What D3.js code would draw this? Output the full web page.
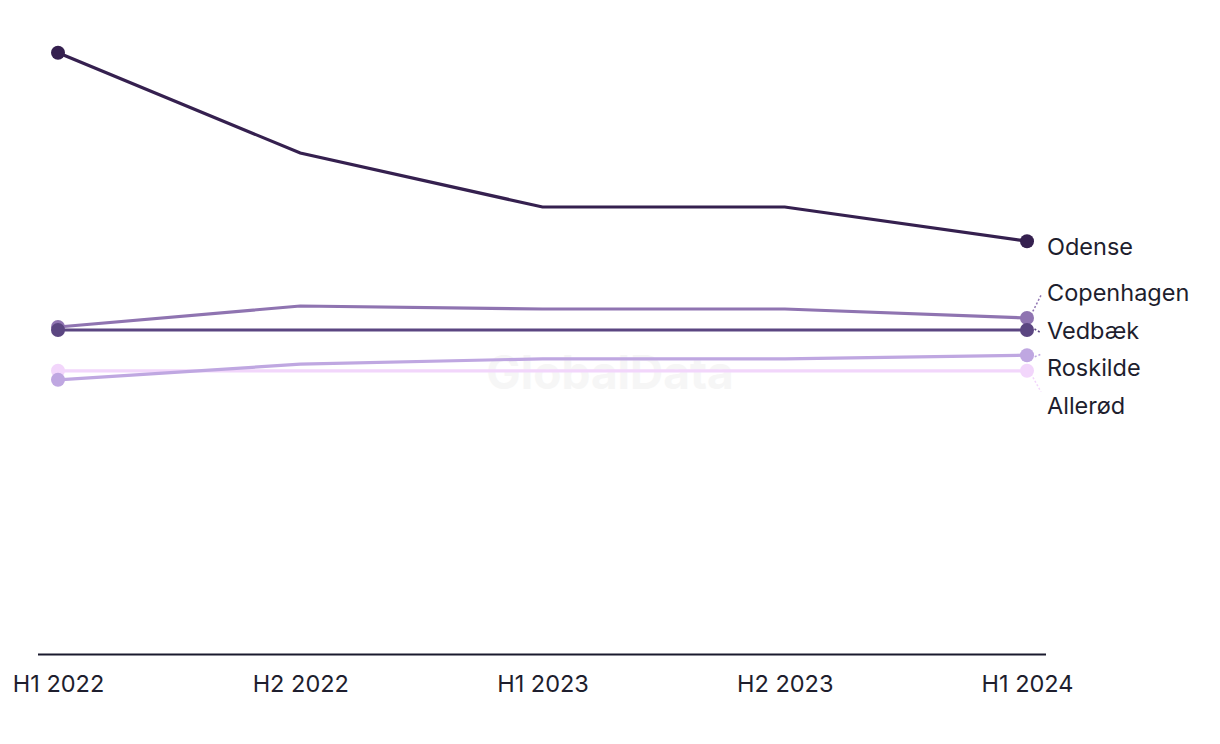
<!DOCTYPE html>
<html>
<head>
<meta charset="utf-8">
<script src="https://cdn.jsdelivr.net/npm/d3@7/dist/d3.min.js"></script>
<style>
  html, body { margin: 0; padding: 0; background: #ffffff; }
  svg { display: block; font-family: "Inter", "Roboto", "Noto Sans", sans-serif; }
</style>
</head>
<body>
<svg id="chart" width="1220" height="744"></svg>
<script>
const periods = ["H1 2022", "H2 2022", "H1 2023", "H2 2023", "H1 2024"];
const seriesNames = ["Odense", "Copenhagen", "Vedbæk", "Roskilde", "Allerød"];
const odense     = [100.2, 83.5, 74.5, 74.5, 68.8];
const copenhagen = [54.5, 58.0, 57.5, 57.5, 56.0];
const vedbaek    = [54.0, 54.0, 54.0, 54.0, 54.0];
const roskilde   = [45.7, 48.3, 49.2, 49.2, 49.8];
const allerod    = [47.2, 47.2, 47.2, 47.2, 47.2];
const colors = ["#35204f", "#8f74b1", "#5b4681", "#bfa7e1", "#f2d6fb"];

const seriesValues = [odense, copenhagen, vedbaek, roskilde, allerod];
const series = seriesNames.map((name, i) => ({
  name, color: colors[i],
  values: periods.map((p, j) => ({ period: p, value: seriesValues[i][j] }))
}));

const svg = d3.select("#chart");
const x = d3.scalePoint().domain(periods).range([58, 1027]);
const y = d3.scaleLinear().domain([0, 104]).range([654, 30]);

// watermark
svg.append("text")
  .attr("x", 610).attr("y", 389)
  .attr("text-anchor", "middle")
  .attr("font-size", 46).attr("font-weight", 700)
  .attr("fill", "#f6f6f6")
  .text("GlobalData");

// x axis
const axis = svg.append("g")
  .attr("transform", `translate(0,${y(0)})`)
  .call(d3.axisBottom(x).tickSize(0).tickPadding(21));
axis.select(".domain").attr("d", "M38,0.5H1046").attr("stroke", "#1a1a2e").attr("stroke-width", 2);
axis.selectAll(".tick text")
  .attr("font-size", 23.5).attr("fill", "#1e1e2e")
  .attr("font-family", "Inter, Roboto, sans-serif");

const line = d3.line().x(d => x(d.period)).y(d => y(d.value));

const drawOrder = [4, 3, 1, 2, 0];
drawOrder.forEach(i => {
  const s = series[i];
  const g = svg.append("g");
  g.append("path")
    .datum(s.values)
    .attr("d", line)
    .attr("fill", "none")
    .attr("stroke", s.color)
    .attr("stroke-width", 3.2);
  g.selectAll("circle")
    .data([s.values[0], s.values[s.values.length - 1]])
    .join("circle")
    .attr("cx", d => x(d.period))
    .attr("cy", d => y(d.value))
    .attr("r", 7)
    .attr("fill", s.color);
});

// end labels with collision avoidance
const last = periods[periods.length - 1];
const labels = series.map(s => ({
  name: s.name, color: s.color,
  y0: y(s.values[s.values.length - 1].value)
})).sort((a, b) => a.y0 - b.y0);
labels.forEach(l => l.y = l.y0);
const gap = 37.5;
for (let iter = 0; iter < 50; iter++) {
  for (let i = 1; i < labels.length; i++) {
    const d = labels[i].y - labels[i - 1].y;
    if (d < gap) {
      const shift = (gap - d) / 2;
      labels[i].y += shift;
      labels[i - 1].y -= shift;
    }
  }
}
const lx = x(last);
labels.forEach(l => {
  if (Math.abs(l.y - l.y0) > 3) {
    svg.append("line")
      .attr("x1", lx + 4).attr("y1", l.y0 + (l.y > l.y0 ? 3 : -3))
      .attr("x2", lx + 14).attr("y2", l.y + (l.y > l.y0 ? -8 : 8))
      .attr("stroke", l.color)
      .attr("stroke-width", 1.5)
      .attr("stroke-dasharray", "2,2");
  }
  svg.append("text")
    .attr("x", lx + 20).attr("y", l.y + 8)
    .attr("dy", "0.25em")
    .attr("font-size", 23.5)
    .attr("fill", "#1e1e2e")
    .text(l.name);
});
</script>
</body>
</html>
